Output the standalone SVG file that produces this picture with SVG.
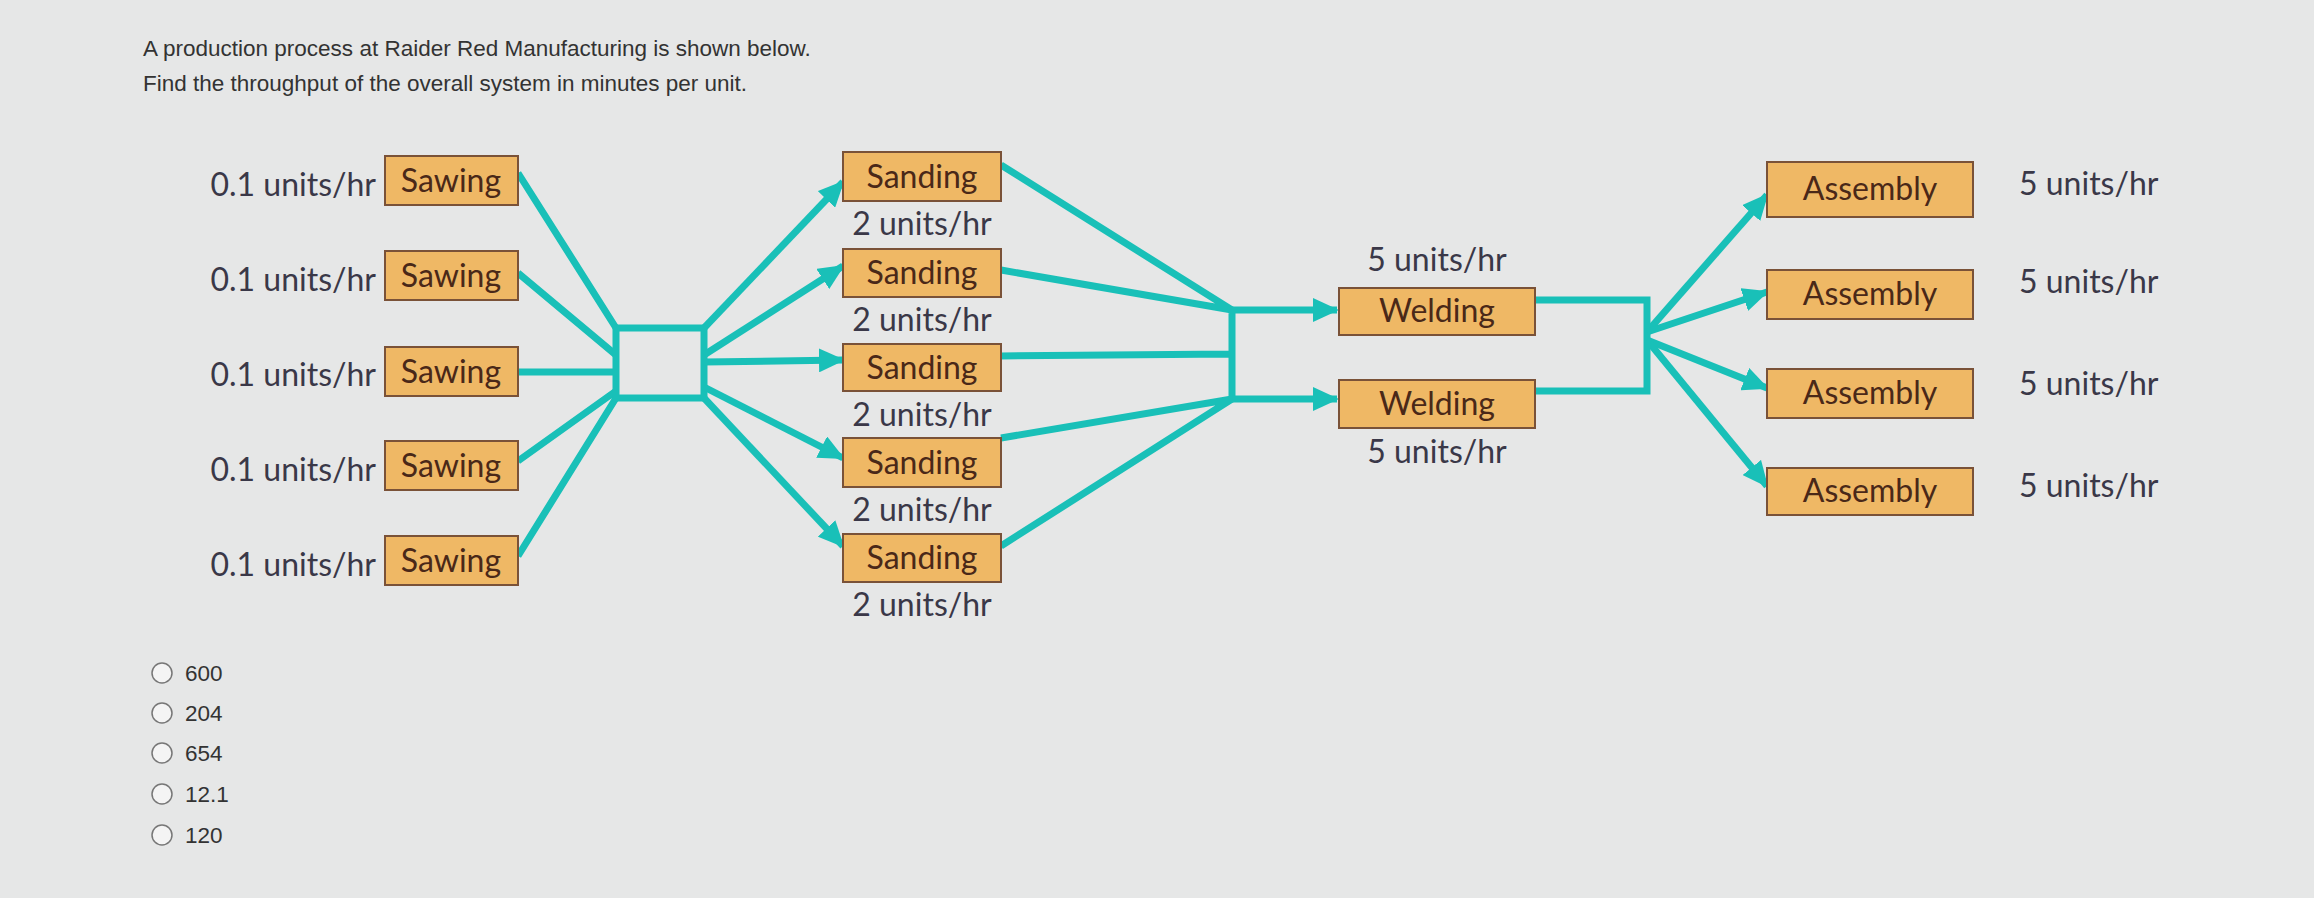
<svg xmlns="http://www.w3.org/2000/svg" width="2314" height="898" viewBox="0 0 2314 898">
<style>
.q{font-family:"Liberation Sans",Arial,sans-serif;font-size:22.5px;fill:#333}
.l{font-family:Lato,"Open Sans",sans-serif;font-size:32px;fill:#3a3848}
.b{fill:#efb865;stroke:#7a5238;stroke-width:2}
.t{font-family:Lato,"Open Sans",sans-serif;font-size:32px;fill:#4a2818;text-anchor:middle}
.c{stroke:#19c0b8;stroke-width:7;fill:none}
.r{fill:#f4f4f4;stroke:#777;stroke-width:1.5}
</style>
<defs><marker id="a" markerUnits="userSpaceOnUse" markerWidth="26" markerHeight="24" refX="24" refY="12" orient="auto"><path d="M0,0L26,12L0,24Z" fill="#19c0b8"/></marker></defs>
<rect width="2314" height="898" fill="#e6e7e7"/>
<text class="q" x="143" y="56">A production process at Raider Red Manufacturing is shown below.</text>
<text class="q" x="143" y="91">Find the throughput of the overall system in minutes per unit.</text>
<g id="connectors" class="c">
<path d="M518,173L616,328M518,273L616,355M518,372L616,372M518,461L616,391M518,556L616,398"/>
<rect x="616" y="328" width="88" height="70"/>
<path d="M704,328L843,182" marker-end="url(#a)"/>
<path d="M704,355L843,266" marker-end="url(#a)"/>
<path d="M704,362L843,360" marker-end="url(#a)"/>
<path d="M704,387L843,458" marker-end="url(#a)"/>
<path d="M704,398L843,546" marker-end="url(#a)"/>
<path d="M1001,165L1232,310M1001,270L1232,310M1001,356L1232,354M1001,438L1232,399M1001,546L1232,399M1232,310L1232,399"/>
<path d="M1232,310L1337,310" marker-end="url(#a)"/>
<path d="M1232,399L1337,399" marker-end="url(#a)"/>
<path d="M1535,300L1647,300L1647,391L1535,391"/>
<path d="M1647,332L1767,195" marker-end="url(#a)"/>
<path d="M1647,332L1767,292" marker-end="url(#a)"/>
<path d="M1647,340L1767,388" marker-end="url(#a)"/>
<path d="M1647,340L1767,486" marker-end="url(#a)"/>
</g>
<g id="saw1"><text class="l" x="376" y="196" text-anchor="end">0.1 units/hr</text><rect class="b" x="385" y="156" width="133" height="49"/><text class="t" x="451" y="192">Sawing</text></g>
<g id="saw2"><text class="l" x="376" y="291" text-anchor="end">0.1 units/hr</text><rect class="b" x="385" y="251" width="133" height="49"/><text class="t" x="451" y="287">Sawing</text></g>
<g id="saw3"><text class="l" x="376" y="386" text-anchor="end">0.1 units/hr</text><rect class="b" x="385" y="347" width="133" height="49"/><text class="t" x="451" y="383">Sawing</text></g>
<g id="saw4"><text class="l" x="376" y="481" text-anchor="end">0.1 units/hr</text><rect class="b" x="385" y="441" width="133" height="49"/><text class="t" x="451" y="477">Sawing</text></g>
<g id="saw5"><text class="l" x="376" y="576" text-anchor="end">0.1 units/hr</text><rect class="b" x="385" y="536" width="133" height="49"/><text class="t" x="451" y="572">Sawing</text></g>
<g id="sand1"><rect class="b" x="843" y="152" width="158" height="49"/><text class="t" x="922" y="188">Sanding</text><text class="l" x="922" y="235" text-anchor="middle">2 units/hr</text></g>
<g id="sand2"><rect class="b" x="843" y="249" width="158" height="48"/><text class="t" x="922" y="284">Sanding</text><text class="l" x="922" y="331" text-anchor="middle">2 units/hr</text></g>
<g id="sand3"><rect class="b" x="843" y="344" width="158" height="47"/><text class="t" x="922" y="379">Sanding</text><text class="l" x="922" y="426" text-anchor="middle">2 units/hr</text></g>
<g id="sand4"><rect class="b" x="843" y="438" width="158" height="49"/><text class="t" x="922" y="474">Sanding</text><text class="l" x="922" y="521" text-anchor="middle">2 units/hr</text></g>
<g id="sand5"><rect class="b" x="843" y="534" width="158" height="48"/><text class="t" x="922" y="569">Sanding</text><text class="l" x="922" y="616" text-anchor="middle">2 units/hr</text></g>
<g id="weld1"><text class="l" x="1437" y="271" text-anchor="middle">5 units/hr</text><rect class="b" x="1339" y="288" width="196" height="47"/><text class="t" x="1437" y="322">Welding</text></g>
<g id="weld2"><rect class="b" x="1339" y="380" width="196" height="48"/><text class="t" x="1437" y="415">Welding</text><text class="l" x="1437" y="463" text-anchor="middle">5 units/hr</text></g>
<g id="asm1"><rect class="b" x="1767" y="162" width="206" height="55"/><text class="t" x="1870" y="200">Assembly</text><text class="l" x="2019" y="195">5 units/hr</text></g>
<g id="asm2"><rect class="b" x="1767" y="270" width="206" height="49"/><text class="t" x="1870" y="305">Assembly</text><text class="l" x="2019" y="293">5 units/hr</text></g>
<g id="asm3"><rect class="b" x="1767" y="369" width="206" height="49"/><text class="t" x="1870" y="404">Assembly</text><text class="l" x="2019" y="395">5 units/hr</text></g>
<g id="asm4"><rect class="b" x="1767" y="468" width="206" height="47"/><text class="t" x="1870" y="502">Assembly</text><text class="l" x="2019" y="497">5 units/hr</text></g>
<g id="options">
<circle class="r" cx="162" cy="673" r="10"/><text class="q" x="185" y="681">600</text>
<circle class="r" cx="162" cy="713" r="10"/><text class="q" x="185" y="721">204</text>
<circle class="r" cx="162" cy="753" r="10"/><text class="q" x="185" y="761">654</text>
<circle class="r" cx="162" cy="794" r="10"/><text class="q" x="185" y="802">12.1</text>
<circle class="r" cx="162" cy="835" r="10"/><text class="q" x="185" y="843">120</text>
</g>
</svg>
